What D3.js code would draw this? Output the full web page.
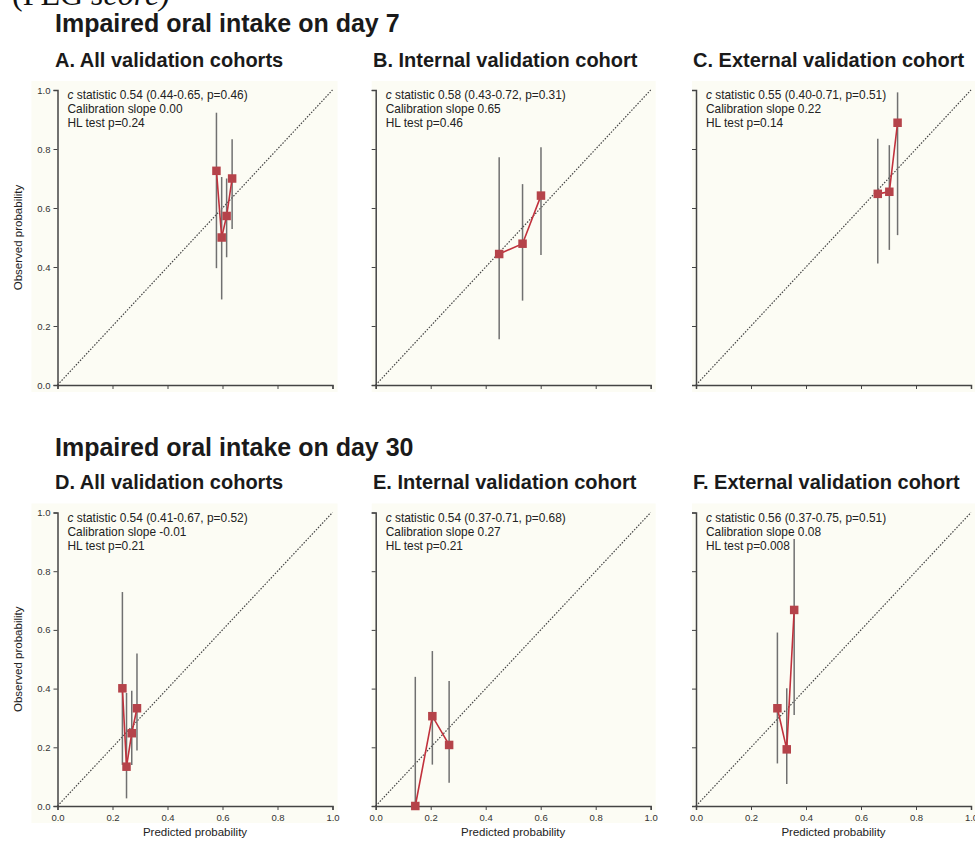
<!DOCTYPE html>
<html>
<head>
<meta charset="utf-8">
<script src="https://cdn.jsdelivr.net/npm/d3@7"></script>
<style>
  html, body { margin: 0; padding: 0; background: #ffffff; }
  svg { display: block; font-family: "Liberation Sans", Arial, Helvetica, sans-serif; }
</style>
</head>
<body>
<svg id="chart" width="975" height="841"></svg>
<script>
// ---------- data ----------
const rowTitles = ["Impaired oral intake on day 7", "Impaired oral intake on day 30"];
const panelTitles = [
  "A. All validation cohorts", "B. Internal validation cohort", "C. External validation cohort",
  "D. All validation cohorts", "E. Internal validation cohort", "F. External validation cohort"
];
const cStats = [
  "0.54 (0.44-0.65, p=0.46)", "0.58 (0.43-0.72, p=0.31)", "0.55 (0.40-0.71, p=0.51)",
  "0.54 (0.41-0.67, p=0.52)", "0.54 (0.37-0.71, p=0.68)", "0.56 (0.37-0.75, p=0.51)"
];
const calSlopes = ["0.00", "0.65", "0.22", "-0.01", "0.27", "0.08"];
const hlTests = ["0.24", "0.46", "0.14", "0.21", "0.21", "0.008"];
const axisTicks = [0, 0.2, 0.4, 0.6, 0.8, 1.0];

// predicted, observed, CI low, CI high per panel
const predA = [0.578, 0.597, 0.615, 0.635];
const obsA  = [0.726, 0.500, 0.573, 0.700];
const loA   = [0.396, 0.290, 0.433, 0.529];
const hiA   = [0.923, 0.705, 0.700, 0.833];

const predB = [0.449, 0.534, 0.601];
const obsB  = [0.444, 0.479, 0.642];
const loB   = [0.155, 0.286, 0.441];
const hiB   = [0.772, 0.681, 0.806];

const predC = [0.661, 0.703, 0.733];
const obsC  = [0.648, 0.655, 0.889];
const loC   = [0.412, 0.458, 0.508];
const hiC   = [0.835, 0.813, 0.992];

const predD = [0.236, 0.251, 0.270, 0.289];
const obsD  = [0.401, 0.134, 0.248, 0.333];
const loD   = [0.140, 0.026, 0.140, 0.189];
const hiD   = [0.729, 0.385, 0.393, 0.520];

const predE = [0.144, 0.206, 0.267];
const obsE  = [0.000, 0.306, 0.208];
const loE   = [0.000, 0.141, 0.079];
const hiE   = [0.440, 0.528, 0.426];

const predF = [0.296, 0.330, 0.357];
const obsF  = [0.333, 0.193, 0.668];
const loF   = [0.145, 0.075, 0.310];
const hiF   = [0.591, 0.401, 0.910];

const seriesPred = [predA, predB, predC, predD, predE, predF];
const seriesObs  = [obsA, obsB, obsC, obsD, obsE, obsF];
const seriesLo   = [loA, loB, loC, loD, loE, loF];
const seriesHi   = [hiA, hiB, hiC, hiD, hiE, hiF];

// ---------- layout ----------
const svg = d3.select("#chart");
const colX = [57.5, 375.7, 696];
const plotW = 275;
const rowTop = [90, 512.5];
const plotH = [295, 293.5];
const bgLeftPad = [26, 4, 4];
const bgBottomPad = [7, 17];

// top cut-off header text
const hdr = svg.append("text").attr("x", 12).attr("y", 5)
  .attr("font-family", "'Liberation Serif', 'Times New Roman', serif")
  .attr("font-size", 32).attr("fill", "#111");
hdr.append("tspan").text("(PEG ");
hdr.append("tspan").attr("font-style", "italic").text("score)");

// row titles
const rowTitleY = [32, 456];
rowTitles.forEach((t, i) => {
  svg.append("text").attr("x", 55).attr("y", rowTitleY[i])
    .attr("font-size", 25).attr("font-weight", "bold").attr("fill", "#1a1a1a").text(t);
});

const subTitleX = [55, 373, 693];
const subTitleY = [67, 489];

panelTitles.forEach((title, p) => {
  const row = Math.floor(p / 3), col = p % 3;
  const x0 = colX[col], y0 = rowTop[row], h = plotH[row];
  const x = d3.scaleLinear().domain([0, 1]).range([x0, x0 + plotW]);
  const y = d3.scaleLinear().domain([0, 1]).range([y0 + h, y0]);

  // subtitle
  svg.append("text").attr("x", subTitleX[col]).attr("y", subTitleY[row])
    .attr("font-size", 20).attr("font-weight", "bold").attr("fill", "#1a1a1a").text(title);

  const g = svg.append("g");
  // panel background
  g.append("rect")
    .attr("x", x0 - bgLeftPad[col]).attr("y", y0 - 9)
    .attr("width", Math.min(plotW + bgLeftPad[col] + 5, 975 - (x0 - bgLeftPad[col])))
    .attr("height", h + 9 + bgBottomPad[row])
    .attr("fill", "#fcfcf4");

  // diagonal reference line
  g.append("line")
    .attr("x1", x(0)).attr("y1", y(0)).attr("x2", x(1)).attr("y2", y(1))
    .attr("stroke", "#444").attr("stroke-width", 1.2).attr("stroke-dasharray", "1.5,1.5");

  // axes
  const yAxis = d3.axisLeft(y).tickValues(axisTicks).tickSize(4).tickPadding(3)
    .tickFormat(col === 0 ? d3.format(".1f") : () => "");
  const xAxis = d3.axisBottom(x).tickValues(axisTicks).tickSize(4).tickPadding(4)
    .tickFormat(row === 1 ? d3.format(".1f") : () => "");
  const ya = g.append("g").attr("transform", `translate(${x0},0)`).call(yAxis);
  const xa = g.append("g").attr("transform", `translate(0,${y0 + h})`).call(xAxis);
  [ya, xa].forEach(a => {
    a.select(".domain").attr("stroke", "#444").attr("stroke-width", 1.5);
    a.selectAll(".tick line").attr("stroke", "#444").attr("stroke-width", 1);
    a.selectAll(".tick text").attr("font-size", 9.5).attr("fill", "#333")
      .attr("font-family", "'Liberation Sans', Arial, sans-serif");
  });

  // axis titles
  if (col === 0) {
    g.append("text")
      .attr("transform", `translate(${x0 - 36},${y0 + h / 2}) rotate(-90)`)
      .attr("text-anchor", "middle").attr("font-size", 11.5).attr("fill", "#222")
      .text("Observed probability");
  }
  if (row === 1) {
    g.append("text").attr("x", x(0.5)).attr("y", 836)
      .attr("text-anchor", "middle").attr("font-size", 11.5).attr("fill", "#222")
      .text("Predicted probability");
  }

  // annotations
  const tx = x0 + 10;
  const fs = 11.9;
  const t1 = g.append("text").attr("x", tx).attr("y", y0 + 9).attr("font-size", fs).attr("fill", "#222");
  t1.append("tspan").attr("font-style", "italic").text("c");
  t1.append("tspan").text(" statistic " + cStats[p]);
  g.append("text").attr("x", tx).attr("y", y0 + 23).attr("font-size", fs).attr("fill", "#222")
    .text("Calibration slope " + calSlopes[p]);
  g.append("text").attr("x", tx).attr("y", y0 + 37).attr("font-size", fs).attr("fill", "#222")
    .text("HL test p=" + hlTests[p]);

  const pts = seriesPred[p].map((v, i) => ({
    px: v, obs: seriesObs[p][i], lo: seriesLo[p][i], hi: seriesHi[p][i]
  }));

  // CI bars
  g.selectAll(".ci").data(pts).enter().append("line")
    .attr("x1", d => x(d.px)).attr("x2", d => x(d.px))
    .attr("y1", d => y(d.lo)).attr("y2", d => y(d.hi))
    .attr("stroke", "#707070").attr("stroke-width", 1.5);

  // connecting line
  g.append("path").datum(pts)
    .attr("d", d3.line().x(d => x(d.px)).y(d => y(d.obs)))
    .attr("fill", "none").attr("stroke", "#c1313c").attr("stroke-width", 1.6);

  // square markers
  const s = 8.5;
  g.selectAll(".pt").data(pts).enter().append("rect")
    .attr("x", d => x(d.px) - s / 2).attr("y", d => y(d.obs) - s / 2)
    .attr("width", s).attr("height", s)
    .attr("fill", "#b5434a");
});
</script>
</body>
</html>
